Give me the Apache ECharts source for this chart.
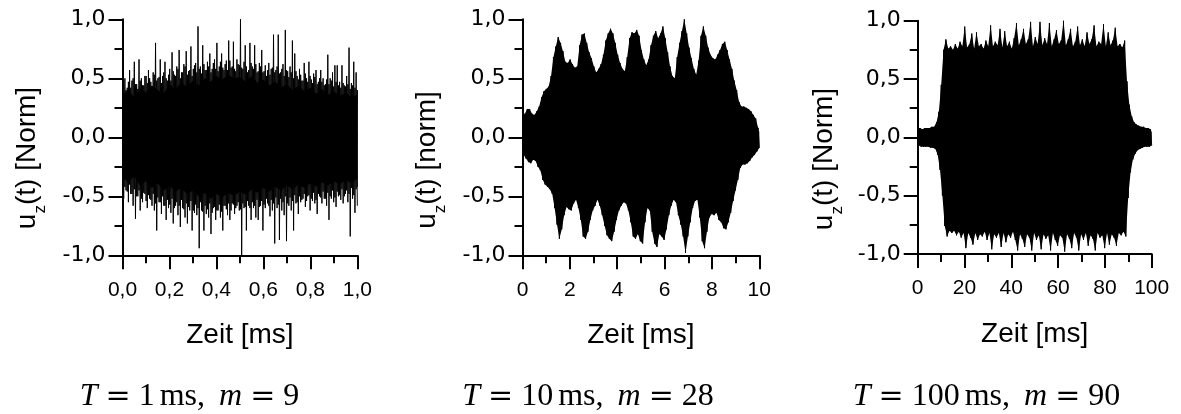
<!DOCTYPE html>
<html><head><meta charset="utf-8">
<script src="https://cdn.jsdelivr.net/npm/echarts@6/dist/echarts.min.js"></script>
<style>html,body{margin:0;padding:0;background:#fff}#c{width:1181px;height:414px}</style>
</head><body><div id="c"></div><script>
// ---------- tick labels ----------
const yTickLabels = ['-1,0', '-0,5', '0,0', '0,5', '1,0'];
const p1XTickLabels = ['0,0', '0,2', '0,4', '0,6', '0,8', '1,0'];
const p2XTickLabels = ['0', '2', '4', '6', '8', '10'];
const p3XTickLabels = ['0', '20', '40', '60', '80', '100'];
const xTitle = 'Zeit [ms]';
const yTitles = ['Norm', 'norm', 'Norm'];
const captions = [['T', '1', '9'], ['T', '10', '28'], ['T', '100', '90']];

// ---------- durations (ms) ----------
const durations = [1, 10, 100];

// ---------- panel 1 (T = 1 ms): positive / negative peaks, and solid core ----------
const p1Hi = [0.55,0.50,0.42,0.57,0.48,0.64,0.45,0.66,0.50,0.44,
 0.52,0.57,0.47,0.55,0.80,0.50,0.66,0.52,0.64,0.48,
 0.58,0.72,0.53,0.60,0.74,0.55,0.62,0.73,0.56,0.77,
 0.58,0.63,0.94,0.60,0.78,0.57,0.64,0.71,0.58,0.66,
 0.80,0.60,0.71,0.57,0.65,0.82,0.59,0.81,0.56,0.62,
 1.00,0.58,0.78,0.55,0.80,0.60,0.78,0.55,0.63,0.74,
 0.56,0.52,0.63,0.58,0.87,0.57,0.87,0.55,0.62,0.91,
 0.56,0.60,0.82,0.71,0.52,0.58,0.48,0.63,0.50,0.64,
 0.49,0.54,0.57,0.47,0.57,0.50,0.45,0.70,0.50,0.55,
 0.61,0.61,0.47,0.61,0.44,0.52,0.76,0.46,0.64,0.55];
const p1Lo = [-0.52,-0.45,-0.55,-0.48,-0.58,-0.69,-0.50,-0.62,-0.55,-0.48,
 -0.60,-0.52,-0.58,-0.62,-0.79,-0.55,-0.65,-0.58,-0.70,-0.60,
 -0.64,-0.73,-0.58,-0.66,-0.76,-0.60,-0.68,-0.73,-0.62,-0.79,
 -0.64,-0.66,-0.94,-0.62,-0.79,-0.65,-0.68,-0.82,-0.60,-0.70,
 -0.62,-0.68,-0.79,-0.58,-0.66,-0.70,-0.56,-0.65,-0.58,-0.62,
 -1.00,-0.60,-0.79,-0.58,-0.70,-0.60,-0.68,-0.70,-0.58,-0.79,
 -0.60,-0.56,-0.67,-0.62,-0.90,-0.60,-0.87,-0.62,-0.66,-0.88,
 -0.58,-0.62,-0.79,-0.56,-0.65,-0.55,-0.52,-0.59,-0.50,-0.62,
 -0.54,-0.56,-0.65,-0.50,-0.56,-0.52,-0.58,-0.70,-0.52,-0.55,
 -0.59,-0.50,-0.53,-0.56,-0.48,-0.55,-0.84,-0.52,-0.64,-0.58];
// in-between (smaller) oscillation peaks of panel 1
const p1Hi2 = [0.44,0.40,0.47,0.42,0.50,0.45,0.41,0.48,0.44,0.52,
 0.46,0.50,0.43,0.53,0.48,0.51,0.46,0.55,0.50,0.53,
 0.48,0.56,0.52,0.58,0.50,0.55,0.60,0.53,0.57,0.52,
 0.61,0.55,0.58,0.54,0.62,0.57,0.60,0.55,0.63,0.58,
 0.56,0.64,0.59,0.62,0.57,0.65,0.60,0.58,0.66,0.61,
 0.59,0.64,0.60,0.57,0.63,0.58,0.62,0.56,0.60,0.55,
 0.61,0.57,0.53,0.59,0.55,0.60,0.54,0.58,0.52,0.57,
 0.51,0.55,0.50,0.56,0.49,0.53,0.48,0.54,0.47,0.52,
 0.46,0.51,0.45,0.50,0.47,0.44,0.49,0.45,0.48,0.43,
 0.47,0.44,0.42,0.46,0.43,0.45,0.41,0.44,0.42,0.40];
const p1Lo2 = [-0.42,-0.46,-0.40,-0.48,-0.44,-0.50,-0.45,-0.52,-0.47,-0.54,
 -0.49,-0.53,-0.48,-0.56,-0.51,-0.55,-0.50,-0.58,-0.53,-0.57,
 -0.52,-0.60,-0.55,-0.58,-0.53,-0.61,-0.56,-0.59,-0.54,-0.62,
 -0.57,-0.60,-0.55,-0.63,-0.58,-0.61,-0.56,-0.64,-0.59,-0.62,
 -0.57,-0.63,-0.58,-0.61,-0.56,-0.62,-0.57,-0.60,-0.55,-0.61,
 -0.56,-0.59,-0.54,-0.60,-0.55,-0.58,-0.53,-0.59,-0.54,-0.57,
 -0.52,-0.58,-0.53,-0.56,-0.51,-0.57,-0.52,-0.55,-0.50,-0.56,
 -0.51,-0.54,-0.49,-0.55,-0.50,-0.53,-0.48,-0.54,-0.49,-0.52,
 -0.47,-0.53,-0.48,-0.51,-0.46,-0.52,-0.47,-0.50,-0.45,-0.51,
 -0.46,-0.49,-0.44,-0.50,-0.45,-0.48,-0.43,-0.49,-0.44,-0.42];
const p1CoreHi = [0.36,0.40,0.34,0.42,0.38,0.44,0.40,0.37,0.45,0.41,
 0.46,0.43,0.48,0.44,0.50,0.47,0.52,0.49,0.53,0.50,
 0.51,0.47,0.52,0.46,0.49,0.44,0.47,0.42,0.45,0.40,
 0.44,0.39,0.42,0.37,0.41,0.36,0.39,0.35,0.38,0.34,0.36];
const p1CoreLo = [-0.34,-0.38,-0.33,-0.41,-0.37,-0.43,-0.39,-0.45,-0.41,-0.46,
 -0.43,-0.48,-0.45,-0.50,-0.47,-0.52,-0.48,-0.51,-0.47,-0.50,
 -0.46,-0.49,-0.44,-0.47,-0.43,-0.46,-0.42,-0.45,-0.41,-0.44,
 -0.40,-0.43,-0.39,-0.42,-0.38,-0.41,-0.37,-0.40,-0.36,-0.39,-0.35];

// ---------- panel 2 (T = 10 ms) ----------
const p2Hi = [0.16,0.20,0.24,0.24,0.20,0.19,0.22,0.26,0.34,0.39,
 0.41,0.43,0.52,0.68,0.77,0.85,0.80,0.73,0.64,0.63,
 0.66,0.62,0.59,0.60,0.78,0.87,0.88,0.80,0.72,0.67,
 0.60,0.55,0.58,0.62,0.70,0.82,0.88,0.92,0.88,0.80,
 0.70,0.63,0.58,0.56,0.68,0.84,0.89,0.88,0.91,0.86,
 0.74,0.66,0.61,0.66,0.78,0.86,0.90,0.84,0.88,0.94,
 0.84,0.72,0.60,0.52,0.50,0.68,0.80,0.90,1.00,0.88,
 0.76,0.67,0.58,0.53,0.65,0.86,0.94,0.86,0.76,0.70,
 0.67,0.66,0.70,0.74,0.79,0.81,0.74,0.66,0.58,0.48,
 0.40,0.30,0.26,0.26,0.25,0.24,0.22,0.19,0.16,0.08];
const p2Lo = [-0.15,-0.18,-0.21,-0.22,-0.19,-0.20,-0.25,-0.28,-0.36,-0.40,
 -0.42,-0.44,-0.48,-0.60,-0.74,-0.86,-0.78,-0.66,-0.59,-0.61,
 -0.62,-0.56,-0.53,-0.60,-0.70,-0.84,-0.86,-0.80,-0.70,-0.62,
 -0.58,-0.53,-0.58,-0.66,-0.75,-0.83,-0.86,-0.88,-0.80,-0.70,
 -0.62,-0.58,-0.55,-0.56,-0.62,-0.72,-0.84,-0.86,-0.82,-0.88,
 -0.90,-0.72,-0.60,-0.62,-0.80,-0.90,-0.93,-0.82,-0.84,-0.87,
 -0.78,-0.66,-0.58,-0.53,-0.55,-0.66,-0.74,-0.84,-0.98,-0.84,
 -0.72,-0.60,-0.54,-0.53,-0.68,-0.88,-0.94,-0.80,-0.68,-0.65,
 -0.66,-0.64,-0.70,-0.72,-0.77,-0.78,-0.72,-0.64,-0.54,-0.45,
 -0.36,-0.26,-0.23,-0.23,-0.22,-0.20,-0.17,-0.15,-0.12,-0.09];

// ---------- panel 3 (T = 100 ms) ----------
const p3Hi = [0.08,0.08,0.07,0.08,0.08,0.08,0.09,0.09,0.13,0.22,
 0.45,0.75,0.84,0.76,0.78,0.75,0.80,0.76,0.82,0.78,
 0.95,0.77,0.80,0.89,0.76,0.90,0.78,0.80,0.76,0.83,
 0.78,0.96,0.78,0.82,0.79,0.93,0.77,0.91,0.78,0.82,
 0.76,0.85,0.98,0.79,0.84,0.93,0.80,0.84,0.99,0.78,
 0.86,0.80,0.99,0.79,0.85,0.80,0.98,0.78,0.84,0.92,
 0.80,0.83,1.00,0.79,0.84,0.93,0.78,0.82,0.95,0.79,
 0.84,0.78,0.90,0.80,0.84,0.96,0.78,0.82,0.80,0.97,
 0.78,0.90,0.79,0.83,0.94,0.78,0.80,0.77,0.83,0.48,
 0.28,0.18,0.13,0.11,0.10,0.09,0.09,0.08,0.08,0.07];
const p3Lo = [-0.07,-0.08,-0.08,-0.08,-0.08,-0.09,-0.09,-0.10,-0.15,-0.28,
 -0.50,-0.76,-0.85,-0.80,-0.82,-0.80,-0.84,-0.81,-0.86,-0.82,
 -0.95,-0.82,-0.86,-0.92,-0.82,-0.88,-0.83,-0.85,-0.81,-0.88,
 -0.82,-0.96,-0.83,-0.86,-0.82,-0.94,-0.82,-0.90,-0.83,-0.86,
 -0.81,-0.88,-0.97,-0.83,-0.87,-0.94,-0.83,-0.86,-0.97,-0.82,
 -0.88,-0.84,-0.96,-0.83,-0.87,-0.84,-0.97,-0.82,-0.88,-0.93,
 -0.84,-0.86,-0.98,-0.83,-0.87,-0.95,-0.82,-0.86,-0.97,-0.83,
 -0.88,-0.82,-0.93,-0.84,-0.87,-0.97,-0.82,-0.86,-0.84,-0.95,
 -0.82,-0.92,-0.83,-0.86,-0.93,-0.82,-0.84,-0.81,-0.85,-0.52,
 -0.30,-0.19,-0.14,-0.11,-0.10,-0.09,-0.08,-0.08,-0.08,-0.07];

// ---------- helpers ----------
const SANS = '"Liberation Sans", Arial, sans-serif';
const SERIF = '"Liberation Serif", "Times New Roman", serif';

// alternate positive and negative peaks along the sample times
function zigzag(hi, lo, T, shift) {
  const n = hi.length + lo.length, pts = [];
  for (let k = 0; k < hi.length; k++) {
    pts.push([Math.min(T, (2 * k + shift) / (n - 1) * T), hi[k]]);
    pts.push([Math.min(T, (2 * k + 1 + shift) / (n - 1) * T), lo[k]]);
  }
  return pts;
}
function peakPoints(arr, T, offset, total) {
  return arr.map((v, k) => [(2 * k + offset) / (total - 1) * T, v]);
}
function evenPoints(arr, T) {
  return arr.map((v, k) => [k / (arr.length - 1) * T, v]);
}
// filled envelope; the two halves overlap slightly across zero so no seam shows
function areaSeries(idx, data, origin) {
  return { type: 'line', xAxisIndex: idx, yAxisIndex: idx, data, showSymbol: false, silent: true,
    lineStyle: { width: 0 }, areaStyle: { color: '#000', opacity: 1, origin: origin }, animation: false, z: 2 };
}
function lineSeries(idx, data) {
  return { type: 'line', xAxisIndex: idx, yAxisIndex: idx, data, showSymbol: false, silent: true,
    lineStyle: { width: 1, color: '#000' }, sampling: null, animation: false, z: 3 };
}

const grids = [
  { left: 122.5, top: 19.3, width: 234.8, height: 236 },
  { left: 522.5, top: 19.3, width: 236.8, height: 236 },
  { left: 917.7, top: 20.7, width: 234, height: 233.3 }
];
const xLabelSets = [p1XTickLabels, p2XTickLabels, p3XTickLabels];

const axisLineStyle = { color: '#000', width: 2 };
const xAxes = grids.map((g, i) => {
  const T = durations[i], step = T / 5, labels = xLabelSets[i];
  return {
    type: 'value', gridIndex: i, min: 0, max: T, interval: step,
    name: xTitle, nameLocation: 'middle', nameGap: 66,
    nameTextStyle: { fontFamily: SANS, fontSize: 28, color: '#000' },
    axisLine: { show: true, onZero: false, lineStyle: axisLineStyle },
    axisTick: { show: true, inside: false, length: 14, lineStyle: axisLineStyle },
    minorTick: { show: true, splitNumber: 2, length: 8, lineStyle: axisLineStyle },
    splitLine: { show: false }, minorSplitLine: { show: false },
    axisLabel: { fontFamily: SANS, fontSize: 21, color: '#000', margin: 24, hideOverlap: false,
      showMinLabel: true, showMaxLabel: true,
      formatter: v => labels[Math.round(v / step)] }
  };
});
const yAxes = grids.map((g, i) => ({
  type: 'value', gridIndex: i, min: -1, max: 1, interval: 0.5,
  axisLine: { show: true, onZero: false, lineStyle: axisLineStyle },
  axisTick: { show: true, inside: false, length: 14, lineStyle: axisLineStyle },
  minorTick: { show: true, splitNumber: 2, length: 8, lineStyle: axisLineStyle },
  splitLine: { show: false }, minorSplitLine: { show: false },
  axisLabel: { fontFamily: '"DejaVu Sans", sans-serif', fontSize: 22, color: '#000', margin: 17,
    hideOverlap: false, showMinLabel: true, showMaxLabel: true,
    formatter: v => yTickLabels[Math.round((v + 1) / 0.5)] }
}));

const series = [
  areaSeries(0, evenPoints(p1CoreHi, durations[0]), -0.05),
  areaSeries(0, evenPoints(p1CoreLo, durations[0]), 0.05),
  lineSeries(0, zigzag(p1Hi2, p1Lo2, durations[0], 1)),
  lineSeries(0, zigzag(p1Hi, p1Lo, durations[0], 0)),
  areaSeries(1, peakPoints(p2Hi, durations[1], 0, 200), -0.05),
  areaSeries(1, peakPoints(p2Lo, durations[1], 1, 200), 0.05),
  lineSeries(1, zigzag(p2Hi, p2Lo, durations[1], 0)),
  areaSeries(2, peakPoints(p3Hi, durations[2], 0, 200), -0.05),
  areaSeries(2, peakPoints(p3Lo, durations[2], 1, 200), 0.05),
  lineSeries(2, zigzag(p3Hi, p3Lo, durations[2], 0))
];

// y-axis titles with subscript, and LaTeX-like captions
const yTitleX = [13.5, 413.5, 810.5];
const yTitleY = [158, 160, 159];
const captionX = [189.5, 588, 986.5];
const graphics = [];
for (let i = 0; i < 3; i++) {
  graphics.push({
    type: 'text', x: yTitleX[i], y: yTitleY[i], rotation: Math.PI / 2, silent: true,
    style: {
      text: '{a|u}{s|z}{a|(t) [' + yTitles[i] + ']}',
      align: 'center', verticalAlign: 'top',
      rich: {
        a: { fontFamily: SANS, fontSize: 28, verticalAlign: 'top', fill: '#000', color: '#000' },
        s: { fontFamily: SANS, fontSize: 17, verticalAlign: 'top', padding: [18, 0, 0, 0], fill: '#000', color: '#000' }
      }
    }
  });
  const c = captions[i];
  graphics.push({
    type: 'text', x: captionX[i], y: 397, silent: true,
    style: {
      text: '{i|' + c[0] + '}{g1| }{e|=}{g1| }{r|' + c[1] + '}{g2| }{r|ms,}{g3| }{i|m}{g1| }{e|=}{g1| }{r|' + c[2] + '}',
      align: 'center', verticalAlign: 'middle',
      rich: {
        i: { fontFamily: SERIF, fontStyle: 'italic', fontSize: 32, fill: '#000', color: '#000' },
        r: { fontFamily: SERIF, fontSize: 32, fill: '#000', color: '#000' },
        e: { fontFamily: '"DejaVu Serif", serif', fontSize: 30, fill: '#000', color: '#000' },
        g1: { fontSize: 20, width: 8 },
        g2: { fontSize: 20, width: 5 },
        g3: { fontSize: 20, width: 14 }
      }
    }
  });
}

const chart = echarts.init(document.getElementById('c'), null, { renderer: 'canvas' });
chart.setOption({
  animation: false,
  backgroundColor: '#fff',
  grid: grids.map(g => Object.assign({ containLabel: false }, g)),
  xAxis: xAxes,
  yAxis: yAxes,
  series,
  graphic: graphics
});
</script></body></html>
